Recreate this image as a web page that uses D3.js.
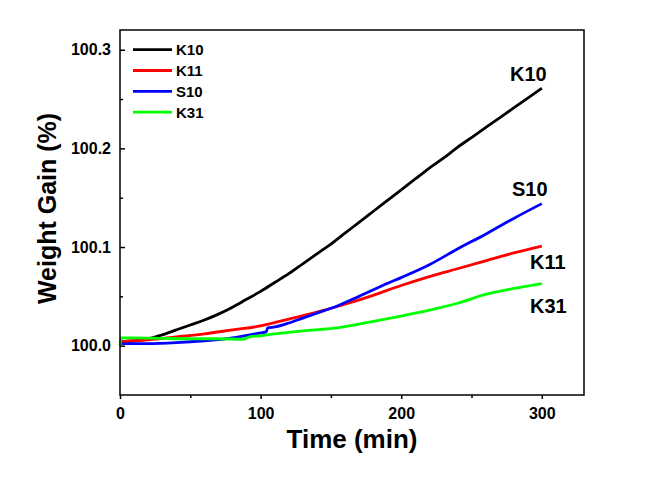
<!DOCTYPE html>
<html><head><meta charset="utf-8">
<script src="https://cdn.jsdelivr.net/npm/d3@7"></script>
<style>body{margin:0;background:#fff}svg{display:block}text{font-family:"Liberation Sans",Arial,sans-serif;font-weight:bold}</style>
</head><body><svg id="c" width="647" height="479"></svg>
<script>
const seriesNames = ["K10", "K11", "S10", "K31"];
const seriesColors = ["#000000", "#ff0000", "#0000ff", "#00ff00"];
const timeK10 = [0,10,20,30,40,50,60,70,80,90,100,110,120,130,140,150,160,170,180,190,200,210,220,230,240,250,260,270,280,290,300];
const valK10 = [100.004,100.005,100.007,100.011,100.016,100.021,100.026,100.032,100.039,100.047,100.055,100.064,100.073,100.083,100.093,100.103,100.114,100.125,100.136,100.147,100.158,100.169,100.180,100.190,100.201,100.211,100.221,100.231,100.241,100.251,100.261];
const timeK11 = [0,20,40,60,80,100,120,140,160,180,200,220,240,260,280,300];
const valK11 = [100.004,100.006,100.009,100.012,100.016,100.020,100.027,100.034,100.042,100.051,100.061,100.070,100.078,100.086,100.094,100.101];
const timeS10 = [0,20,40,60,80,100,104,105,110,120,130,140,154,170,190,200,220,240,260,280,300];
const valS10 = [100.002,100.002,100.003,100.005,100.008,100.013,100.014,100.018,100.019,100.023,100.028,100.033,100.040,100.050,100.063,100.069,100.082,100.098,100.113,100.129,100.144];
const timeK31 = [0,1,10,30,50,70,88,92,100,110,130,154,185,200,220,240,260,280,300];
const valK31 = [100.000,100.008,100.008,100.0075,100.007,100.007,100.0065,100.009,100.010,100.012,100.015,100.018,100.026,100.030,100.036,100.043,100.052,100.058,100.063];
const xTicks = [0,100,200,300];
const xMinorTicks = [50,150,250];
const yTicks = [100.0,100.1,100.2,100.3];
const yMinorTicks = [100.05,100.15,100.25];
const endLabels = ["K10","S10","K11","K31"];
const endLabelY = [100.276,100.159,100.085,100.040];
const xTitle = "Time (min)";
const yTitle = "Weight Gain (%)";

const series = [
  {name:"K10", t:timeK10, v:valK10},
  {name:"K11", t:timeK11, v:valK11},
  {name:"S10", t:timeS10, v:valS10},
  {name:"K31", t:timeK31, v:valK31}
];

const svg = d3.select("#c");
const L=120, R=584, T=30, B=395;
const x = d3.scaleLinear().domain([0,330]).range([L,R]);
const y = d3.scaleLinear().domain([99.95,100.32]).range([B,T]);

// x axis (outward ticks)
const gx = svg.append("g").attr("transform",`translate(0,${B})`)
  .call(d3.axisBottom(x).tickValues(xTicks).tickSize(4).tickPadding(6).tickFormat(d3.format("d")));
gx.select(".domain").remove();
gx.selectAll("line").attr("stroke","#000").attr("stroke-width",1.5);
gx.selectAll("text").attr("font-size",16).attr("fill","#000").attr("dy","0.9em");
const gxm = svg.append("g").attr("transform",`translate(0,${B})`)
  .call(d3.axisBottom(x).tickValues(xMinorTicks).tickSize(3).tickFormat(""));
gxm.select(".domain").remove();
gxm.selectAll("line").attr("stroke","#000").attr("stroke-width",1.5);

// y axis (inward ticks)
const gy = svg.append("g").attr("transform",`translate(${L},0)`)
  .call(d3.axisLeft(y).tickValues(yTicks).tickSize(-5).tickPadding(9).tickFormat(d3.format(".1f")));
gy.select(".domain").remove();
gy.selectAll("line").attr("stroke","#000").attr("stroke-width",1.5);
gy.selectAll("text").attr("font-size",16).attr("fill","#000");
const gym = svg.append("g").attr("transform",`translate(${L},0)`)
  .call(d3.axisLeft(y).tickValues(yMinorTicks).tickSize(-3).tickFormat(""));
gym.select(".domain").remove();
gym.selectAll("line").attr("stroke","#000").attr("stroke-width",1.5);

// lines
const line = d3.line().x(d=>x(d[0])).y(d=>y(d[1])).curve(d3.curveMonotoneX);
series.forEach((s,i)=>{
  const pts = s.t.map((t,j)=>[t,s.v[j]]);
  svg.append("path").datum(pts).attr("d",line).attr("fill","none")
    .attr("stroke",seriesColors[i]).attr("stroke-width",2.8).attr("stroke-linejoin","round");
});

// frame
svg.append("rect").attr("x",L).attr("y",T).attr("width",R-L).attr("height",B-T)
  .attr("fill","none").attr("stroke","#000").attr("stroke-width",1.5);

// legend
seriesNames.forEach((n,i)=>{
  const yy = 49.7 + i*20.8;
  svg.append("line").attr("x1",133).attr("x2",172).attr("y1",yy).attr("y2",yy)
    .attr("stroke",seriesColors[i]).attr("stroke-width",2.8);
  svg.append("text").attr("x",176).attr("y",yy).attr("dy","0.36em").attr("font-size",15).text(n);
});

// end labels
const endX = [510,512,530,530];
endLabels.forEach((n,i)=>{
  svg.append("text").attr("x",endX[i]).attr("y",y(endLabelY[i])).attr("dy","0.36em")
    .attr("font-size",20).text(n);
});

// titles
svg.append("text").attr("x",(L+R)/2).attr("y",448).attr("text-anchor","middle").attr("font-size",26).text(xTitle);
svg.append("text").attr("transform",`translate(56,${(T+B)/2-4}) rotate(-90)`).attr("text-anchor","middle").attr("font-size",25).text(yTitle);
</script></body></html>
